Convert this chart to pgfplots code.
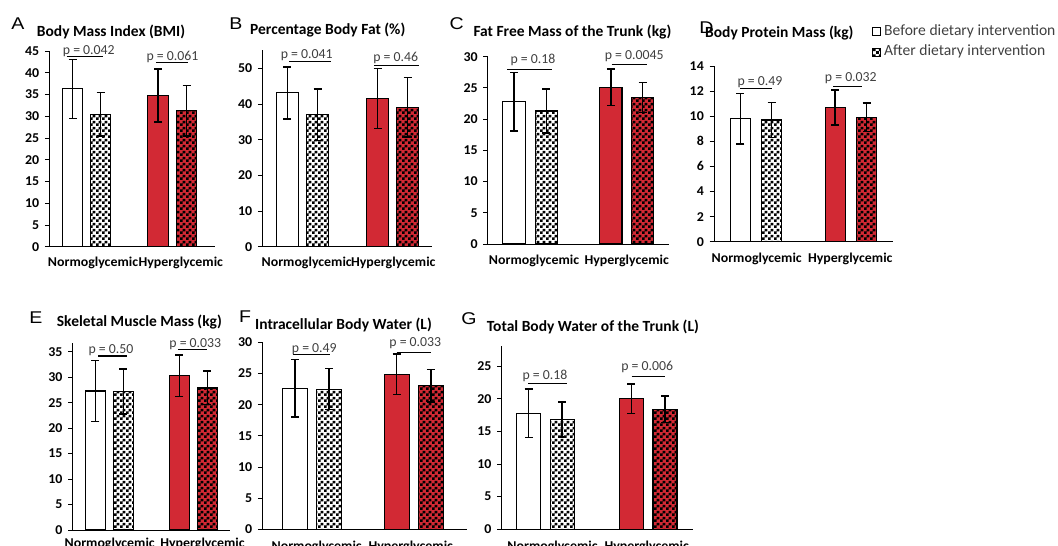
\documentclass[border=0pt]{standalone}
\usepackage{pgfplots}
\pgfplotsset{compat=1.18}
\usepackage{fontspec}
\setmainfont{Carlito}
\newfontfamily\arialf[FakeStretch=1.15]{Liberation Sans}
\newfontfamily\tickf[FakeStretch=1.03]{Carlito}
\usetikzlibrary{patterns}
\definecolor{hred}{RGB}{210,41,52}
\definecolor{pgray}{RGB}{64,64,64}
\pgfdeclarepatternformonly{smallchecker}{\pgfpointorigin}{\pgfqpoint{6pt}{6pt}}{\pgfqpoint{6pt}{6pt}}{%
  \pgfpathrectangle{\pgfpointorigin}{\pgfqpoint{3pt}{3pt}}%
  \pgfpathrectangle{\pgfqpoint{3pt}{3pt}}{\pgfqpoint{3pt}{3pt}}%
  \pgfusepath{fill}}
\newcommand\tickfont{\tickf\fontsize{13.5}{13.5}\selectfont\bfseries}
\newcommand\titlefont{\fontsize{15.5}{15.5}\selectfont\bfseries}
\newcommand\pfont{\fontsize{13.8}{13.8}\selectfont}
\newcommand\legfont{\fontsize{15.6}{15.6}\selectfont}
\newcommand\letfont{\arialf\fontsize{17}{17}\selectfont}
\tikzset{
  pline/.style={line width=1.2pt, black},
  ptext/.style={anchor=base, font=\pfont, text=pgray, inner sep=0pt},
  nb/.style={fill=white, draw=black, line width=1.1pt},
  na/.style={fill=white, draw=black, line width=1.1pt, postaction={pattern=smallchecker}},
  hb/.style={fill=hred, draw=black, line width=1.1pt},
  ha/.style={fill=hred, draw=black, line width=1.1pt, postaction={pattern=smallchecker}},
}
\pgfplotsset{
  panel/.style={
    scale only axis, anchor=south west,
    xmin=0, ymin=0,
    axis x line*=bottom, axis y line*=left,
    axis line style={line width=0.9pt, black},
    tick align=outside, major tick length=4.5pt,
    xtick style={draw=none},
    ytick style={line width=0.9pt, black},
    tick label style={font=\tickfont},
    /pgf/number format/assume math mode=true,
    yticklabel style={anchor=east, inner sep=0pt, xshift=-5.5pt},
    xticklabel style={anchor=base, inner sep=0pt},
    xticklabels={Normoglycemic,Hyperglycemic},
    ybar, bar shift=0pt,
    clip=false,
    error bars/y dir=both, error bars/y explicit,
    error bars/error bar style={line width=1.4pt, black},
    error bars/error mark options={rotate=90, mark size=4pt, line width=1.4pt, black},
  },
}
\begin{document}
\begin{tikzpicture}
\path[use as bounding box] (0,0) rectangle (1058pt,546pt);
\clip (0,0) rectangle (1058pt,546pt);

% ---------------- A ----------------
\begin{axis}[panel, at={(49.3pt,299.3pt)}, width=165.7pt, height=195.7pt,
  xmax=165.7, ymax=45, ytick={0,5,...,45}, xtick={43.7,131.5},
  xticklabel style={yshift=-15pt}, bar width=20.5pt]
\addplot[nb] coordinates {(23.2,36.3) +- (0,6.8)};
\addplot[na] coordinates {(51.2,30.5) +- (0,5.0)};
\addplot[hb] coordinates {(108.7,34.8) +- (0,6.1)};
\addplot[ha] coordinates {(137.35,31.3) +- (0,5.8)};
\draw[pline] (axis cs:17.4,43.7) -- (axis cs:54,43.7);
\node[ptext, yshift=2.4pt] at (axis cs:39.5,43.7) {p = 0.042};
\draw[pline] (axis cs:106.7,42.3) -- (axis cs:139,42.3);
\node[ptext, yshift=2.7pt] at (axis cs:123.2,42.3) {p = 0.061};
\end{axis}

% ---------------- B ----------------
\begin{axis}[panel, at={(262.3pt,299.3pt)}, width=169.4pt, height=196.2pt,
  xmax=169.4, ymax=55, ytick={0,10,...,50}, xtick={44.4,131},
  xticklabel style={yshift=-15pt}, bar width=22pt]
\addplot[nb] coordinates {(24.9,43.1) +- (0,7.3)};
\addplot[na] coordinates {(55.4,37.0) +- (0,7.2)};
\addplot[hb] coordinates {(115.2,41.6) +- (0,8.4)};
\addplot[ha] coordinates {(145.2,39.1) +- (0,8.3)};
\draw[pline] (axis cs:27,51.9) -- (axis cs:68.4,51.9);
\node[ptext, yshift=3.4pt] at (axis cs:44.4,51.9) {p = 0.041};
\draw[pline] (axis cs:111.7,50.7) -- (axis cs:157,50.7);
\node[ptext, yshift=4pt] at (axis cs:133.4,50.7) {p = 0.46};
\end{axis}

% ---------------- C ----------------
\begin{axis}[panel, at={(487.8pt,302pt)}, width=181.2pt, height=187.3pt,
  xmax=181.2, ymax=30, ytick={0,5,...,30}, xtick={46.2,138.9},
  xticklabel style={yshift=-16pt}, bar width=22.3pt]
\addplot[nb] coordinates {(26.2,22.8) +- (0,4.7)};
\addplot[na] coordinates {(58.5,21.3) +- (0,3.5)};
\addplot[hb] coordinates {(123,25.1) +- (0,2.9)};
\addplot[ha] coordinates {(154.9,23.5) +- (0,2.4)};
\draw[pline] (axis cs:19.5,28.0) -- (axis cs:64.2,28.0);
\node[ptext, yshift=5.3pt] at (axis cs:45.2,28.0) {p = 0.18};
\draw[pline] (axis cs:123.9,28.8) -- (axis cs:158.9,28.8);
\node[ptext, yshift=4.3pt] at (axis cs:146.4,28.8) {p = 0.0045};
\end{axis}

% ---------------- D ----------------
\begin{axis}[panel, at={(714pt,304.3pt)}, width=179.3pt, height=175.7pt,
  xmax=179.3, ymax=14, ytick={0,2,...,14}, xtick={42.7,136.3},
  xticklabel style={yshift=-16.7pt}, bar width=20pt]
\addplot[nb] coordinates {(26.35,9.8) +- (0,2.0)};
\addplot[na] coordinates {(57.7,9.7) +- (0,1.4)};
\addplot[hb] coordinates {(121.15,10.7) +- (0,1.4)};
\addplot[ha] coordinates {(152.7,9.92) +- (0,1.13)};
\draw[pline] (axis cs:26,12.2) -- (axis cs:57.7,12.2);
\node[ptext, yshift=2.7pt] at (axis cs:46,12.2) {p = 0.49};
\draw[pline] (axis cs:119.3,12.37) -- (axis cs:148.3,12.37);
\node[ptext, yshift=5pt] at (axis cs:136.8,12.37) {p = 0.032};
\end{axis}

% ---------------- E ----------------
\begin{axis}[panel, at={(72.7pt,16pt)}, width=157.3pt, height=187.3pt,
  xmax=157.3, ymax=36.8, ytick={0,5,...,35}, xtick={37,129.8},
  xticklabel style={yshift=-13.3pt}, bar width=20pt]
\addplot[nb] coordinates {(22.6,27.3) +- (0,5.95)};
\addplot[na] coordinates {(50.6,27.2) +- (0,4.4)};
\addplot[hb] coordinates {(106.6,30.3) +- (0,4.1)};
\addplot[ha] coordinates {(134.6,27.9) +- (0,3.3)};
\draw[pline] (axis cs:25.6,34.2) -- (axis cs:54,34.2);
\node[ptext, yshift=2.4pt] at (axis cs:38.3,34.2) {p = 0.50};
\draw[pline] (axis cs:105.6,35.4) -- (axis cs:134,35.4);
\node[ptext, yshift=2.6pt] at (axis cs:122.6,35.4) {p = 0.033};
\end{axis}

% ---------------- F ----------------
\begin{axis}[panel, at={(262.3pt,16.7pt)}, width=204.4pt, height=187pt,
  xmax=204.4, ymax=30, ytick={0,5,...,30}, xtick={54.4,148.5},
  xticklabel style={yshift=-16.4pt}, bar width=25pt]
\addplot[nb] coordinates {(32.5,22.6) +- (0,4.6)};
\addplot[na] coordinates {(66.7,22.5) +- (0,3.3)};
\addplot[hb] coordinates {(134.35,24.9) +- (0,3.25)};
\addplot[ha] coordinates {(168.5,23.0) +- (0,2.6)};
\draw[pline] (axis cs:31,28.1) -- (axis cs:67.7,28.1);
\node[ptext, yshift=1.6pt] at (axis cs:52,28.1) {p = 0.49};
\draw[pline] (axis cs:134.4,28.4) -- (axis cs:168.4,28.4);
\node[ptext, yshift=6pt] at (axis cs:153,28.4) {p = 0.033};
\end{axis}

% ---------------- G ----------------
\begin{axis}[panel, at={(501.7pt,16.7pt)}, width=191.6pt, height=182.9pt,
  xmax=191.6, ymax=28, ytick={0,5,...,25}, xtick={50.8,145},
  xticklabel style={yshift=-17pt}, bar width=24pt]
\addplot[nb] coordinates {(27,17.76) +- (0,3.7)};
\addplot[na] coordinates {(60.45,16.8) +- (0,2.7)};
\addplot[hb] coordinates {(129.6,20.0) +- (0,2.25)};
\addplot[ha] coordinates {(163.3,18.37) +- (0,2.05)};
\draw[pline] (axis cs:26.6,22.35) -- (axis cs:65,22.35);
\node[ptext, yshift=4pt] at (axis cs:43.3,22.35) {p = 0.18};
\draw[pline] (axis cs:130,23.4) -- (axis cs:163.3,23.4);
\node[ptext, yshift=6pt] at (axis cs:145.5,23.4) {p = 0.006};
\end{axis}

% ---------------- titles and letters ----------------
\node[anchor=west, font=\titlefont, inner sep=0pt] at (36.7pt,514.3pt) {Body Mass Index (BMI)};
\node[anchor=west, font=\titlefont, inner sep=0pt] at (250pt,516pt) {Percentage Body Fat (\%)};
\node[anchor=west, font=\titlefont, inner sep=0pt] at (473.3pt,514.3pt) {Fat Free Mass of the Trunk (kg)};
\node[anchor=west, font=\titlefont, inner sep=0pt] at (705pt,512.7pt) {Body Protein Mass (kg)};
\node[anchor=west, font=\titlefont, inner sep=0pt] at (56.7pt,224.3pt) {Skeletal Muscle Mass (kg)};
\node[anchor=west, font=\titlefont, inner sep=0pt] at (255pt,221pt) {Intracellular Body Water (L)};
\node[anchor=west, font=\titlefont, inner sep=0pt] at (486.7pt,219.3pt) {Total Body Water of the Trunk (L)};
\node[font=\letfont, inner sep=0pt] at (18pt,522pt) {A};
\node[font=\letfont, inner sep=0pt] at (236pt,522pt) {B};
\node[font=\letfont, inner sep=0pt] at (456.7pt,522pt) {C};
\node[font=\letfont, inner sep=0pt] at (706.5pt,518.5pt) {D};
\node[font=\letfont, inner sep=0pt] at (35.8pt,228pt) {E};
\node[font=\letfont, inner sep=0pt] at (245pt,229.3pt) {F};
\node[font=\letfont, inner sep=0pt] at (469pt,227pt) {G};

% ---------------- legend ----------------
\draw[fill=white, line width=0.9pt] (872.3pt,510.3pt) rectangle (880.3pt,518.3pt);
\draw[fill=white, line width=0.9pt, postaction={pattern=smallchecker}] (872.3pt,489.5pt) rectangle (880.3pt,497.5pt);
\node[anchor=west, font=\legfont, text=pgray, inner sep=0pt] at (884pt,514.3pt) {Before dietary intervention};
\node[anchor=west, font=\legfont, text=pgray, inner sep=0pt] at (884pt,494.3pt) {After dietary intervention};
\end{tikzpicture}
\end{document}
